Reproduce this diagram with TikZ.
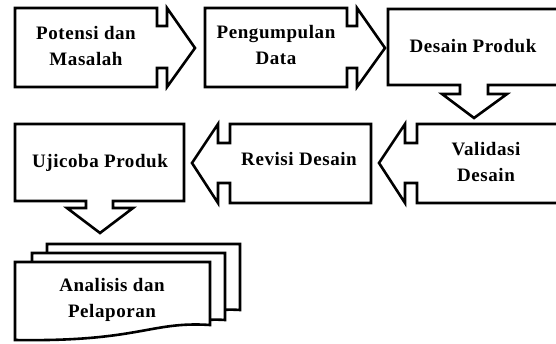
\documentclass[tikz,border=0pt]{standalone}
\usepackage{fontspec}
\setmainfont{Liberation Serif}
\begin{document}
\begin{tikzpicture}[x=1pt,y=-1pt,
  shp/.style={draw=black,line width=2.6pt,fill=white,line join=miter},
  lbl/.style={font=\fontsize{19}{25.5}\selectfont\bfseries\addfontfeatures{LetterSpace=3},align=center,inner sep=0pt}]
\clip (0,0) rectangle (556,343);
\fill[white] (0,0) rectangle (556,343);
% 1 Potensi dan Masalah
\draw[shp] (15,8) -- (157,8) -- (157,26) -- (167,26) -- (167,8) -- (195,48) -- (167,87) -- (167,68) -- (157,68) -- (157,87) -- (15,87) -- cycle;
\node[lbl] (potensi) at (86,46) {Potensi dan\\Masalah};
% 2 Pengumpulan Data
\draw[shp] (205,8) -- (347,8) -- (347,26) -- (357,26) -- (357,8) -- (385,48) -- (357,87) -- (357,68) -- (347,68) -- (347,87) -- (205,87) -- cycle;
\node[lbl] (pengumpulan) at (276,45) {Pengumpulan\\Data};
% 3 Desain Produk
\draw[shp] (388,9) -- (562,9) -- (562,85) -- (488,85) -- (488,94) -- (507,94) -- (474,118) -- (442,94) -- (460,94) -- (460,85) -- (388,85) -- cycle;
\node[lbl,anchor=base] (desain) at (473,52) {Desain Produk};
% 4 Validasi Desain
\draw[shp] (417,124) -- (562,124) -- (562,203) -- (417,203) -- (417,183) -- (405,183) -- (405,203) -- (379,163) -- (405,124) -- (405,143) -- (417,143) -- cycle;
\node[lbl] (validasi) at (486,162) {Validasi\\Desain};
% 5 Revisi Desain
\draw[shp] (230,124) -- (371,124) -- (371,203) -- (230,203) -- (230,183) -- (218,183) -- (218,203) -- (192,163) -- (218,124) -- (218,143) -- (230,143) -- cycle;
\node[lbl,anchor=base] (revisi) at (299,165) {Revisi Desain};
% 6 Ujicoba Produk
\draw[shp] (15,124) -- (184,124) -- (184,201) -- (113,201) -- (113,208) -- (133,208) -- (100,233) -- (67,208) -- (86,208) -- (86,201) -- (15,201) -- cycle;
\node[lbl,anchor=base] (ujicoba) at (100,167) {Ujicoba Produk};
% 7 Analisis dan Pelaporan (multidocument)
\draw[shp] (47,244) -- (240,244) -- (240,310) .. controls (200,307) and (170,325) .. (47,322) -- cycle;
\draw[shp] (32,253) -- (225,253) -- (225,320) .. controls (185,317) and (155,335) .. (32,332) -- cycle;
\draw[shp] (15,262) -- (210,262) -- (210,325) .. controls (150,321) and (140,342) .. (15,340) -- cycle;
\node[lbl] (analisis) at (112,300) {Analisis dan\\Pelaporan};
\end{tikzpicture}
\end{document}
